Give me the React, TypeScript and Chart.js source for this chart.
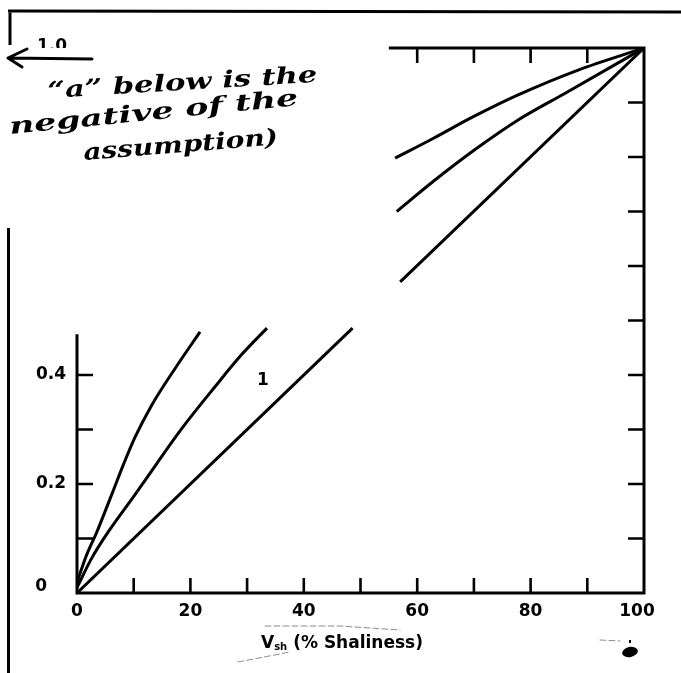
import React, { useEffect, useRef } from "react";
import { Chart, registerables } from "chart.js";

Chart.register(...registerables);

// ---- Data ----
// Upper (most curved) line, lower and upper visible segments
const curveALowX = [0, 0.83, 1.7, 3.5, 6.1, 8.2, 10.2, 13.2, 17.3, 21.7];
const curveALowY = [0.02, 0.045, 0.07, 0.112, 0.18, 0.236, 0.285, 0.345, 0.412, 0.479];
const curveAHighX = [56.1, 62.8, 69.9, 77.8, 88.5, 100];
const curveAHighY = [0.798, 0.834, 0.874, 0.914, 0.96, 1.0];

// Middle line
const curveBLowX = [0, 2.6, 5.5, 10.2, 14.1, 18.5, 24.3, 29, 33.5];
const curveBLowY = [0.01, 0.064, 0.112, 0.18, 0.238, 0.302, 0.378, 0.437, 0.486];
const curveBHighX = [56.4, 62.8, 70.5, 77.8, 86.1, 100];
const curveBHighY = [0.7, 0.755, 0.816, 0.868, 0.917, 1.0];

// Straight line labelled "1"
const curveCLowX = [0, 48.6];
const curveCLowY = [0, 0.486];
const curveCHighX = [57.0, 100];
const curveCHighY = [0.571, 1.0];

const lineLabel = "1";
const lineLabelPos = [32.8, 0.389];

const xTickMarks = [10, 20, 30, 40, 50, 60, 70, 80, 90];
const xTickLabels = [0, 20, 40, 60, 80, 100];
const topTickMarks = [60, 70, 80, 90];
const rightTickMarks = [0.1, 0.2, 0.3, 0.4, 0.5, 0.6, 0.7, 0.8, 0.9];
const leftTickMarks = [0.1, 0.2, 0.3, 0.4];
const yTickLabels = ["0", "0.2", "0.4"];
const yTickLabelValues = [0, 0.2, 0.4];
const topLabel = "1.0";
const topAxisStart = 55;
const leftAxisEnd = 0.475;
const xTitleMain = "V";
const xTitleSub = "sh";
const xTitleRest = " (% Shaliness)";
const noteLines = ["\u201Ca\u201D below is the", "negative of the", "assumption)"];

function pts(xs: number[], ys: number[]) {
  return xs.map((x, i) => ({ x, y: ys[i] }));
}

const LABEL_FONT = "bold 17px 'DejaVu Sans', sans-serif";

const decorPlugin = {
  id: "decor",
  afterDatasetsDraw(chart: any) {
    const ctx: CanvasRenderingContext2D = chart.ctx;
    const xs = chart.scales.x;
    const ys = chart.scales.y;
    const X = (v: number) => xs.getPixelForValue(v);
    const Y = (v: number) => ys.getPixelForValue(v);
    ctx.save();
    ctx.strokeStyle = "#000";
    ctx.fillStyle = "#000";
    ctx.lineCap = "butt";

    // axes
    ctx.lineWidth = 3;
    ctx.beginPath();
    ctx.moveTo(X(0), Y(0));
    ctx.lineTo(X(100) + 1.5, Y(0));
    ctx.moveTo(X(100), Y(0));
    ctx.lineTo(X(100), Y(1) - 1.5);
    ctx.moveTo(X(topAxisStart), Y(1));
    ctx.lineTo(X(100) + 1.5, Y(1));
    ctx.moveTo(X(0), Y(0) + 1.5);
    ctx.lineTo(X(0), Y(leftAxisEnd));
    ctx.stroke();

    // ticks
    ctx.lineWidth = 2.6;
    ctx.beginPath();
    xTickMarks.forEach((v) => {
      ctx.moveTo(X(v), Y(0));
      ctx.lineTo(X(v), Y(0) - 15);
    });
    topTickMarks.forEach((v) => {
      ctx.moveTo(X(v), Y(1));
      ctx.lineTo(X(v), Y(1) + 15);
    });
    rightTickMarks.forEach((v) => {
      ctx.moveTo(X(100), Y(v));
      ctx.lineTo(X(100) - 16, Y(v));
    });
    leftTickMarks.forEach((v) => {
      ctx.moveTo(X(0), Y(v));
      ctx.lineTo(X(0) + 16, Y(v));
    });
    ctx.stroke();

    // tick labels
    ctx.font = LABEL_FONT;
    ctx.textAlign = "center";
    ctx.textBaseline = "middle";
    xTickLabels.forEach((v) => {
      ctx.fillText(String(v), X(v) - (v === 100 ? 7 : 0), Y(0) + 19);
    });
    ctx.textAlign = "right";
    yTickLabels.forEach((t, i) => {
      const v = yTickLabelValues[i];
      ctx.fillText(t, v === 0 ? X(0) - 30 : X(0) - 11, Y(v) - (v === 0 ? 6 : 0));
    });
    // 1.0 label (partly cut off in the scan)
    ctx.save();
    ctx.beginPath();
    ctx.rect(0, 0, 120, Y(1));
    ctx.clip();
    ctx.textAlign = "center";
    ctx.fillText(topLabel, 52, Y(1) - 1);
    ctx.restore();

    // line label
    ctx.textAlign = "center";
    ctx.fillText(lineLabel, X(lineLabelPos[0]), Y(lineLabelPos[1]));

    // x title
    ctx.textAlign = "left";
    const subFont = "bold 10px 'DejaVu Sans', sans-serif";
    const mainFont = "bold 17px 'DejaVu Sans', sans-serif";
    ctx.font = mainFont;
    const wMain = ctx.measureText(xTitleMain).width;
    const wRest = ctx.measureText(xTitleRest).width;
    ctx.font = subFont;
    const wSub = ctx.measureText(xTitleSub).width;
    const total = wMain + wSub + wRest;
    let tx = 342 - total / 2;
    const ty = 644;
    ctx.font = mainFont;
    ctx.fillText(xTitleMain, tx, ty);
    tx += wMain;
    ctx.font = subFont;
    ctx.fillText(xTitleSub, tx, ty + 3);
    tx += wSub;
    ctx.font = mainFont;
    ctx.fillText(xTitleRest, tx, ty);

    // page border of the scan
    ctx.lineWidth = 3;
    ctx.beginPath();
    ctx.moveTo(8, 11);
    ctx.lineTo(681, 12);
    ctx.moveTo(10, 10);
    ctx.lineTo(10, 45);
    ctx.moveTo(8.5, 228);
    ctx.lineTo(8.5, 673);
    ctx.stroke();

    // hand-drawn arrow
    ctx.lineWidth = 3;
    ctx.lineCap = "round";
    ctx.beginPath();
    ctx.moveTo(92, 59);
    ctx.lineTo(8, 58);
    ctx.moveTo(8, 58);
    ctx.lineTo(27, 49);
    ctx.moveTo(8, 58);
    ctx.lineTo(22, 67);
    ctx.stroke();

    // handwritten note
    const note = (text: string, x: number, y: number, w: number, ang: number, size: number) => {
      ctx.save();
      ctx.font = `italic bold ${size}px 'DejaVu Serif', serif`;
      const m = ctx.measureText(text).width;
      ctx.translate(x, y);
      ctx.rotate(ang);
      ctx.scale(w / m, 1);
      ctx.textAlign = "left";
      ctx.textBaseline = "alphabetic";
      ctx.fillText(text, 0, 0);
      ctx.restore();
    };
    note(noteLines[0], 48, 98, 270, -0.06, 23);
    note(noteLines[1], 10, 134, 290, -0.1, 23);
    note(noteLines[2], 84, 160, 195, -0.08, 23);

    // faint scan marks
    ctx.strokeStyle = "rgba(0,0,0,0.45)";
    ctx.lineWidth = 1;
    ctx.setLineDash([6, 3]);
    ctx.beginPath();
    ctx.moveTo(265, 626);
    ctx.lineTo(340, 626);
    ctx.lineTo(400, 630);
    ctx.moveTo(238, 662);
    ctx.lineTo(290, 652);
    ctx.moveTo(600, 640);
    ctx.lineTo(620, 641);
    ctx.stroke();
    ctx.setLineDash([]);
    ctx.fillStyle = "#000";
    ctx.beginPath();
    ctx.ellipse(630, 652, 8, 5, -0.2, 0, Math.PI * 2);
    ctx.fill();
    ctx.fillRect(629, 640, 2, 3);
    ctx.restore();
  },
};

export default function App() {
  const ref = useRef<HTMLCanvasElement | null>(null);
  useEffect(() => {
    if (!ref.current) return;
    const mk = (data: { x: number; y: number }[]) => ({
      data,
      borderColor: "#000",
      borderWidth: 3,
      pointRadius: 0,
      fill: false,
      cubicInterpolationMode: "monotone" as const,
    });
    const chart = new Chart(ref.current, {
      type: "line",
      data: {
        datasets: [
          mk(pts(curveALowX, curveALowY)),
          mk(pts(curveAHighX, curveAHighY)),
          mk(pts(curveBLowX, curveBLowY)),
          mk(pts(curveBHighX, curveBHighY)),
          mk(pts(curveCLowX, curveCLowY)),
          mk(pts(curveCHighX, curveCHighY)),
        ],
      },
      options: {
        animation: false,
        responsive: false,
        layout: { padding: { left: 77, right: 37, top: 48, bottom: 80 } },
        plugins: { legend: { display: false }, tooltip: { enabled: false } },
        scales: {
          x: { type: "linear", min: 0, max: 100, display: false },
          y: { type: "linear", min: 0, max: 1, display: false },
        },
      },
      plugins: [decorPlugin],
    });
    return () => chart.destroy();
  }, []);
  return (
    <div style={{ position: "fixed", left: 0, top: 0, width: 681, height: 673, background: "#fff" }}>
      <canvas ref={ref} width={681} height={673} style={{ display: "block" }} />
    </div>
  );
}
